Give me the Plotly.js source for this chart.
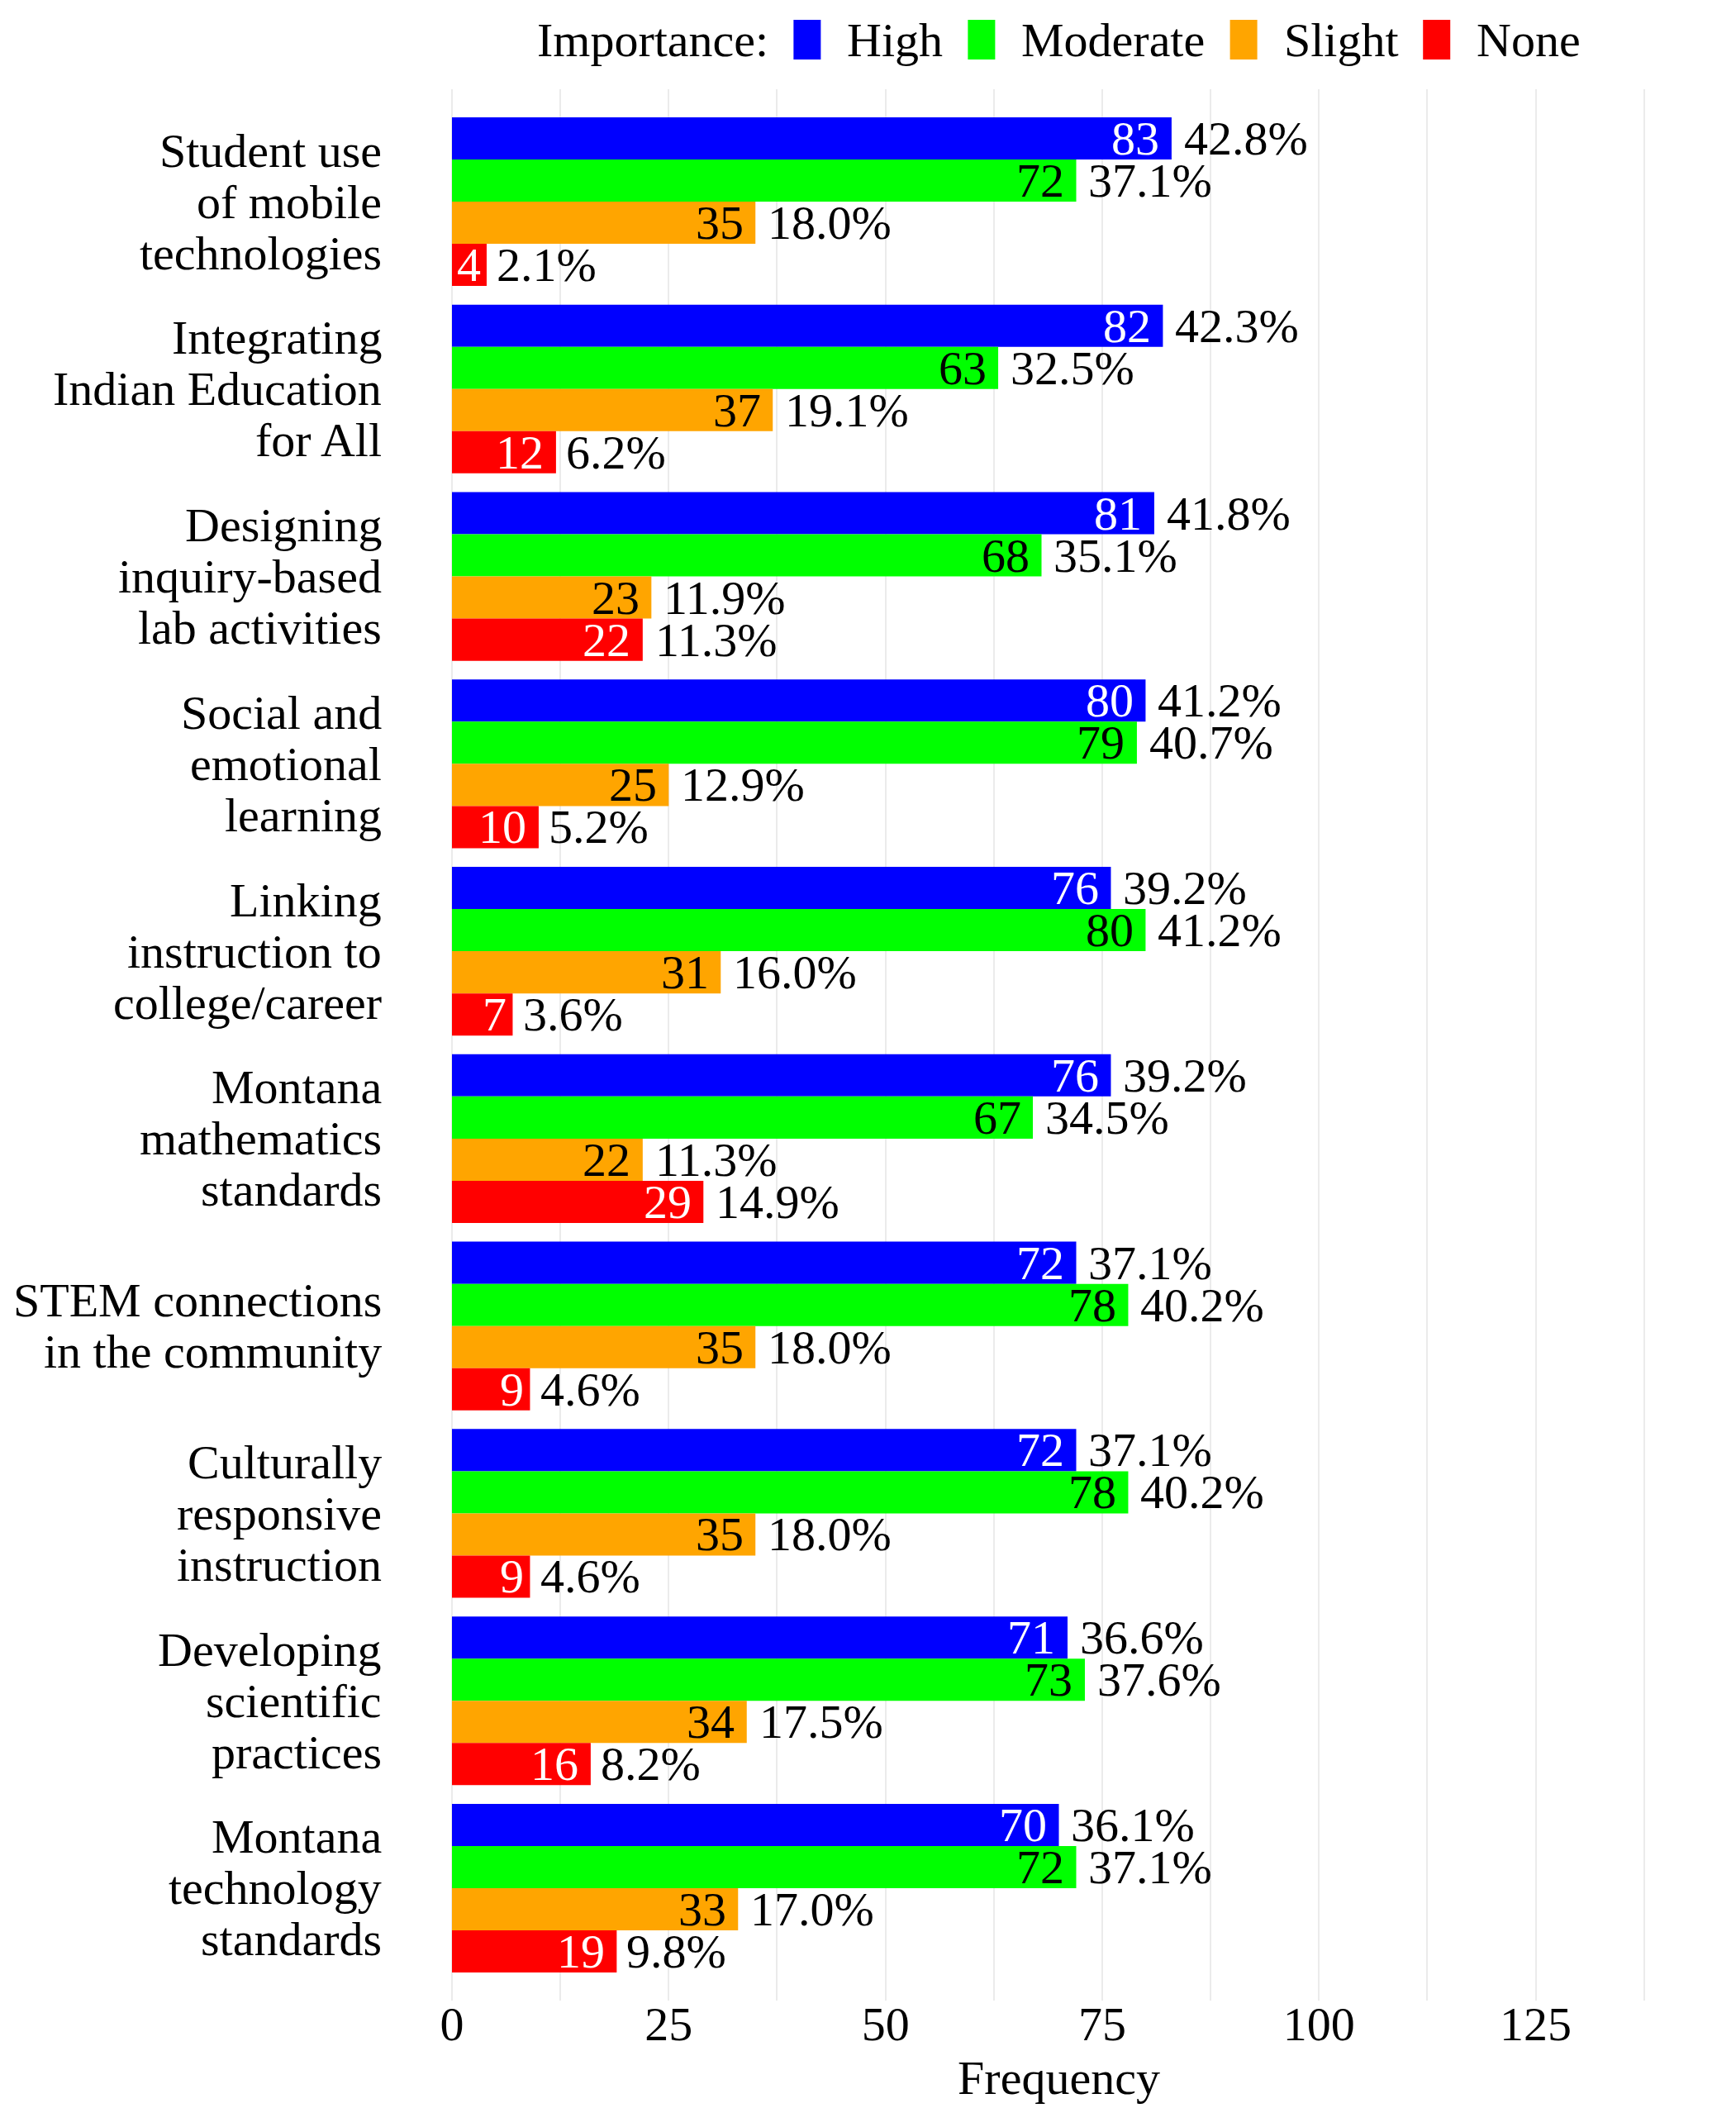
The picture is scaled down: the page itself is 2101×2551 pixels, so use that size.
<!DOCTYPE html>
<html><head><meta charset="utf-8">
<script src="https://cdn.plot.ly/plotly-3.0.1.min.js"></script>
<style>html,body{margin:0;padding:0;background:#fff}</style>
</head><body><div id="chart" style="width:2101px;height:2551px"></div>
<script>
// ---- data ----
const categories = [
  "Student use of mobile technologies",
  "Integrating Indian Education for All",
  "Designing inquiry-based lab activities",
  "Social and emotional learning",
  "Linking instruction to college/career",
  "Montana mathematics standards",
  "STEM connections in the community",
  "Culturally responsive instruction",
  "Developing scientific practices",
  "Montana technology standards"
];
const categoryLines = [
  ["Student use", "of mobile", "technologies"],
  ["Integrating", "Indian Education", "for All"],
  ["Designing", "inquiry-based", "lab activities"],
  ["Social and", "emotional", "learning"],
  ["Linking", "instruction to", "college/career"],
  ["Montana", "mathematics", "standards"],
  ["STEM connections", "in the community"],
  ["Culturally", "responsive", "instruction"],
  ["Developing", "scientific", "practices"],
  ["Montana", "technology", "standards"]
];
const legendTitle = "Importance:";
const seriesNames = ["High", "Moderate", "Slight", "None"];
const high     = [83, 82, 81, 80, 76, 76, 72, 72, 71, 70];
const moderate = [72, 63, 68, 79, 80, 67, 78, 78, 73, 72];
const slight   = [35, 37, 23, 25, 31, 22, 35, 35, 34, 33];
const none     = [4, 12, 22, 10, 7, 29, 9, 9, 16, 19];
const highPct     = ["42.8%", "42.3%", "41.8%", "41.2%", "39.2%", "39.2%", "37.1%", "37.1%", "36.6%", "36.1%"];
const moderatePct = ["37.1%", "32.5%", "35.1%", "40.7%", "41.2%", "34.5%", "40.2%", "40.2%", "37.6%", "37.1%"];
const slightPct   = ["18.0%", "19.1%", "11.9%", "12.9%", "16.0%", "11.3%", "18.0%", "18.0%", "17.5%", "17.0%"];
const nonePct     = ["2.1%", "6.2%", "11.3%", "5.2%", "3.6%", "14.9%", "4.6%", "4.6%", "8.2%", "9.8%"];
const xTickVals = [0, 25, 50, 75, 100, 125];

// ---- styling ----
const seriesValues = [high, moderate, slight, none];
const seriesPct = [highPct, moderatePct, slightPct, nonePct];
const colors = ["#0000FF", "#00FF00", "#FFA500", "#FF0000"];
const insideColors = ["#FFFFFF", "#000000", "#000000", "#FFFFFF"];
const FONT = "Liberation Serif, Times New Roman, serif";
const FS = 58;
const W = 2101, H = 2551;
const M = {l: 547, r: 85, t: 108, b: 130};
const plotW = W - M.l - M.r, plotH = H - M.t - M.b;
const yRange = [9.6, -0.6];
const unitPx = plotH / Math.abs(yRange[0] - yRange[1]);
const bargap = 0.1;
const nS = seriesValues.length;
const barW = (1 - bargap) / nS;
const PAD = 2; // annotation borderpad + borderwidth

const cv = document.createElement("canvas").getContext("2d");
cv.font = FS + "px 'Liberation Serif'";
const tw = s => cv.measureText(s).width;
const pxX = px => (px - M.l) / plotW;
const pxY = py => (H - M.b - py) / plotH;

const traces = seriesValues.map((vals, i) => ({
  type: "bar",
  orientation: "h",
  name: seriesNames[i],
  y: categories,
  x: vals,
  marker: {color: colors[i], line: {width: 0}},
  cliponaxis: false,
  showlegend: false,
  hoverinfo: "x+y+name"
}));

const annotations = [];
const shapes = [];
seriesValues.forEach((vals, i) => {
  const off = -(1 - bargap) / 2 + barW * (i + 0.5);
  vals.forEach((v, j) => {
    const cnt = String(v);
    annotations.push({
      xref: "x", yref: "y", x: v, y: categories[j],
      text: cnt, showarrow: false,
      xanchor: "right", yanchor: "middle", xshift: -(0.25 * tw(cnt) - PAD),
      yshift: -off * unitPx,
      font: {family: FONT, size: FS, color: insideColors[i]}
    });
    const p = seriesPct[i][j];
    annotations.push({
      xref: "x", yref: "y", x: v, y: categories[j],
      text: p, showarrow: false,
      xanchor: "left", yanchor: "middle", xshift: 0.1 * tw(p) - PAD,
      yshift: -off * unitPx,
      font: {family: FONT, size: FS, color: "#000"}
    });
  });
});
const linePitch = 62;
categoryLines.forEach((lines, j) => {
  lines.forEach((ln, k) => {
    annotations.push({
      xref: "paper", yref: "y", x: 0, y: categories[j],
      text: ln, showarrow: false,
      xanchor: "right", yanchor: "middle", xshift: -83,
      yshift: ((lines.length - 1) / 2 - k) * linePitch,
      font: {family: FONT, size: FS, color: "#000"}
    });
  });
});

// ---- legend (key) ----
const keyW = 33, keyH = 48, gapTK = 30, gapKT = 32, keyCY = 48;
let total = tw(legendTitle);
seriesNames.forEach(n => { total += gapTK + keyW + gapKT + tw(n); });
let cx = M.l + plotW / 2 - total / 2;
annotations.push({xref: "paper", yref: "paper", x: pxX(cx - PAD), y: pxY(keyCY),
  text: legendTitle, showarrow: false, xanchor: "left", yanchor: "middle",
  font: {family: FONT, size: FS, color: "#000"}});
cx += tw(legendTitle);
seriesNames.forEach((n, i) => {
  cx += gapTK;
  shapes.push({type: "rect", xref: "paper", yref: "paper",
    x0: pxX(cx), x1: pxX(cx + keyW), y0: pxY(keyCY - keyH / 2), y1: pxY(keyCY + keyH / 2),
    fillcolor: colors[i], line: {width: 0}, layer: "above"});
  cx += keyW + gapKT;
  annotations.push({xref: "paper", yref: "paper", x: pxX(cx - PAD), y: pxY(keyCY),
    text: n, showarrow: false, xanchor: "left", yanchor: "middle",
    font: {family: FONT, size: FS, color: "#000"}});
  cx += tw(n);
});

const layout = {
  width: W, height: H,
  margin: M,
  paper_bgcolor: "#FFFFFF", plot_bgcolor: "#FFFFFF",
  font: {family: FONT, size: FS, color: "#000"},
  barmode: "group", bargap: bargap, bargroupgap: 0,
  showlegend: false,
  xaxis: {
    range: [0, 140], tickvals: xTickVals, ticks: "",
    ticklabelstandoff: -11,
    showgrid: true, gridcolor: "#EBEBEB", gridwidth: 2,
    minor: {dtick: 12.5, tick0: 0, showgrid: true, gridcolor: "#EBEBEB", gridwidth: 2},
    zeroline: true, zerolinecolor: "#EBEBEB", zerolinewidth: 2,
    showline: false,
    tickfont: {family: FONT, size: FS, color: "#000"},
    title: {text: "Frequency", font: {family: FONT, size: FS, color: "#000"}, standoff: 0},
    automargin: false, fixedrange: true
  },
  yaxis: {
    type: "category", range: yRange, showticklabels: false, ticks: "",
    showgrid: false, zeroline: false, showline: false, automargin: false, fixedrange: true
  },
  annotations: annotations,
  shapes: shapes
};
Plotly.newPlot("chart", traces, layout, {displayModeBar: false, staticPlot: true});
</script>
</body></html>
